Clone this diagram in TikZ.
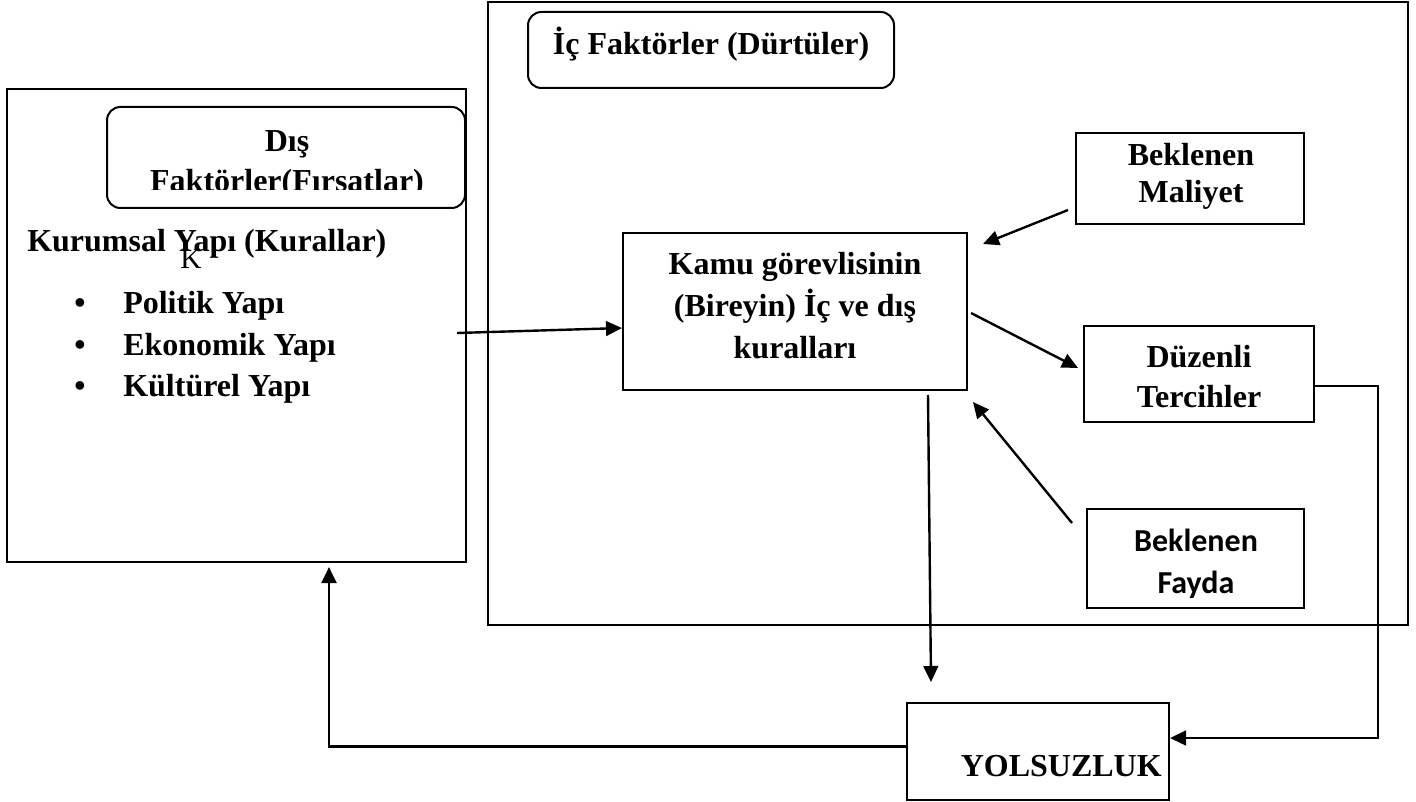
\documentclass[tikz,border=0pt]{standalone}
\usepackage{fontspec}
\setmainfont{Liberation Serif}
\newfontfamily\faydafont{Carlito}
\usetikzlibrary{arrows.meta}
\begin{document}
\begin{tikzpicture}[x=0.75pt,y=-0.75pt]
  \tikzstyle{every node}=[font=\fontsize{24}{28}\selectfont\bfseries,inner sep=0pt]
  \tikzstyle{kutu}=[draw,line width=1.5pt]
  \tikzstyle{yuvarlak}=[kutu,rounded corners=10pt]
  \tikzstyle{yazi}=[align=center,anchor=base]
  \tikzstyle{ok}=[line width=1.8pt,-{Triangle[length=12pt,width=11pt]}]
  \useasboundingbox (0,0) rectangle (1416,802);
  % cerceveler
  \node[kutu,minimum width=690pt,minimum height=467.25pt](ic) at (948,313.5){};
  \node[kutu,minimum width=344.25pt,minimum height=354.75pt](dis) at (236.5,325.5){};
  \node[yuvarlak,minimum width=274.5pt,minimum height=57pt](icbaslik) at (711,50){};
  \node[yuvarlak,minimum width=268.5pt,minimum height=75.75pt](disbaslik) at (286,157.5){};
  \node[yazi](icyazi) at (711,55){İç Faktörler (Dürtüler)};
  \begin{scope}
    \clip (107,107) rectangle (465,190);
    \node[yazi,font=\fontsize{24}{30}\selectfont\bfseries](disyazi) at (287,192){Dış\\Faktörler(Fırsatlar)};
  \end{scope}
  % dis faktorler
  \node[anchor=base west](kurumsal) at (27,252){Kurumsal Yapı (Kurallar)};
  \node[anchor=base west,font=\fontsize{22}{24}\selectfont\mdseries](harf) at (180,268){K};
  \node[anchor=base](m1) at (80,313){•};
  \node[anchor=base west](politik) at (123,313){Politik Yapı};
  \node[anchor=base](m2) at (80,355){•};
  \node[anchor=base west](ekonomik) at (123,355){Ekonomik Yapı};
  \node[anchor=base](m3) at (80,396){•};
  \node[anchor=base west](kulturel) at (123,396){Kültürel Yapı};
  % kutular
  \node[kutu,minimum width=258pt,minimum height=117.75pt](kamu) at (795,311.5){};
  \node[yazi,font=\fontsize{24}{31.5}\selectfont\bfseries](kamuyazi) at (795,358){Kamu görevlisinin\\(Bireyin) İç ve dış\\kuralları};
  \node[kutu,minimum width=171pt,minimum height=68.25pt](maliyet) at (1190,178.5){};
  \node[yazi](maliyetyazi) at (1191,203){Beklenen\\Maliyet};
  \node[kutu,minimum width=172.5pt,minimum height=72pt](duzenli) at (1199,374){};
  \node[yazi,font=\fontsize{24}{30}\selectfont\bfseries](duzenliyazi) at (1199,407){Düzenli\\Tercihler};
  \node[kutu,minimum width=162.75pt,minimum height=74.25pt](fayda) at (1195.5,558.5){};
  \node[yazi,font=\fontsize{24}{31.5}\selectfont\faydafont\bfseries](faydayazi) at (1196,593){Beklenen\\Fayda};
  \node[kutu,minimum width=196.5pt,minimum height=72.75pt](yolsuzluk) at (1038,751.5){};
  \node[anchor=base east](yolsuzlukyazi) at (1162,776){YOLSUZLUK};
  % oklar
  \coordinate (disok) at (457,333);
  \coordinate (maliyetok) at (1068,210);
  \coordinate (kamuust) at (983,244);
  \coordinate (kamusag) at (971,313);
  \coordinate (duzenlisol) at (1078,368);
  \coordinate (faydaok) at (1072,523);
  \coordinate (kamualt) at (973,402);
  \coordinate (kamuok) at (928,395);
  \coordinate (yolsuzlukust) at (931,682);
  \coordinate (disalt) at (329,567);
  \draw[ok](disok)--([yshift=-12.4pt]kamu.west);
  \draw[ok](maliyetok)--(kamuust);
  \draw[ok](kamusag)--(duzenlisol);
  \draw[ok](faydaok)--(kamualt);
  \draw[ok](kamuok)--(yolsuzlukust);
  \draw[ok]([yshift=-9pt]duzenli.east)--++(63,0)|-([yshift=10.1pt]yolsuzluk.east);
  \draw[ok,line width=2.2pt]([yshift=4.1pt]yolsuzluk.west)-|(disalt);
\end{tikzpicture}
\end{document}
